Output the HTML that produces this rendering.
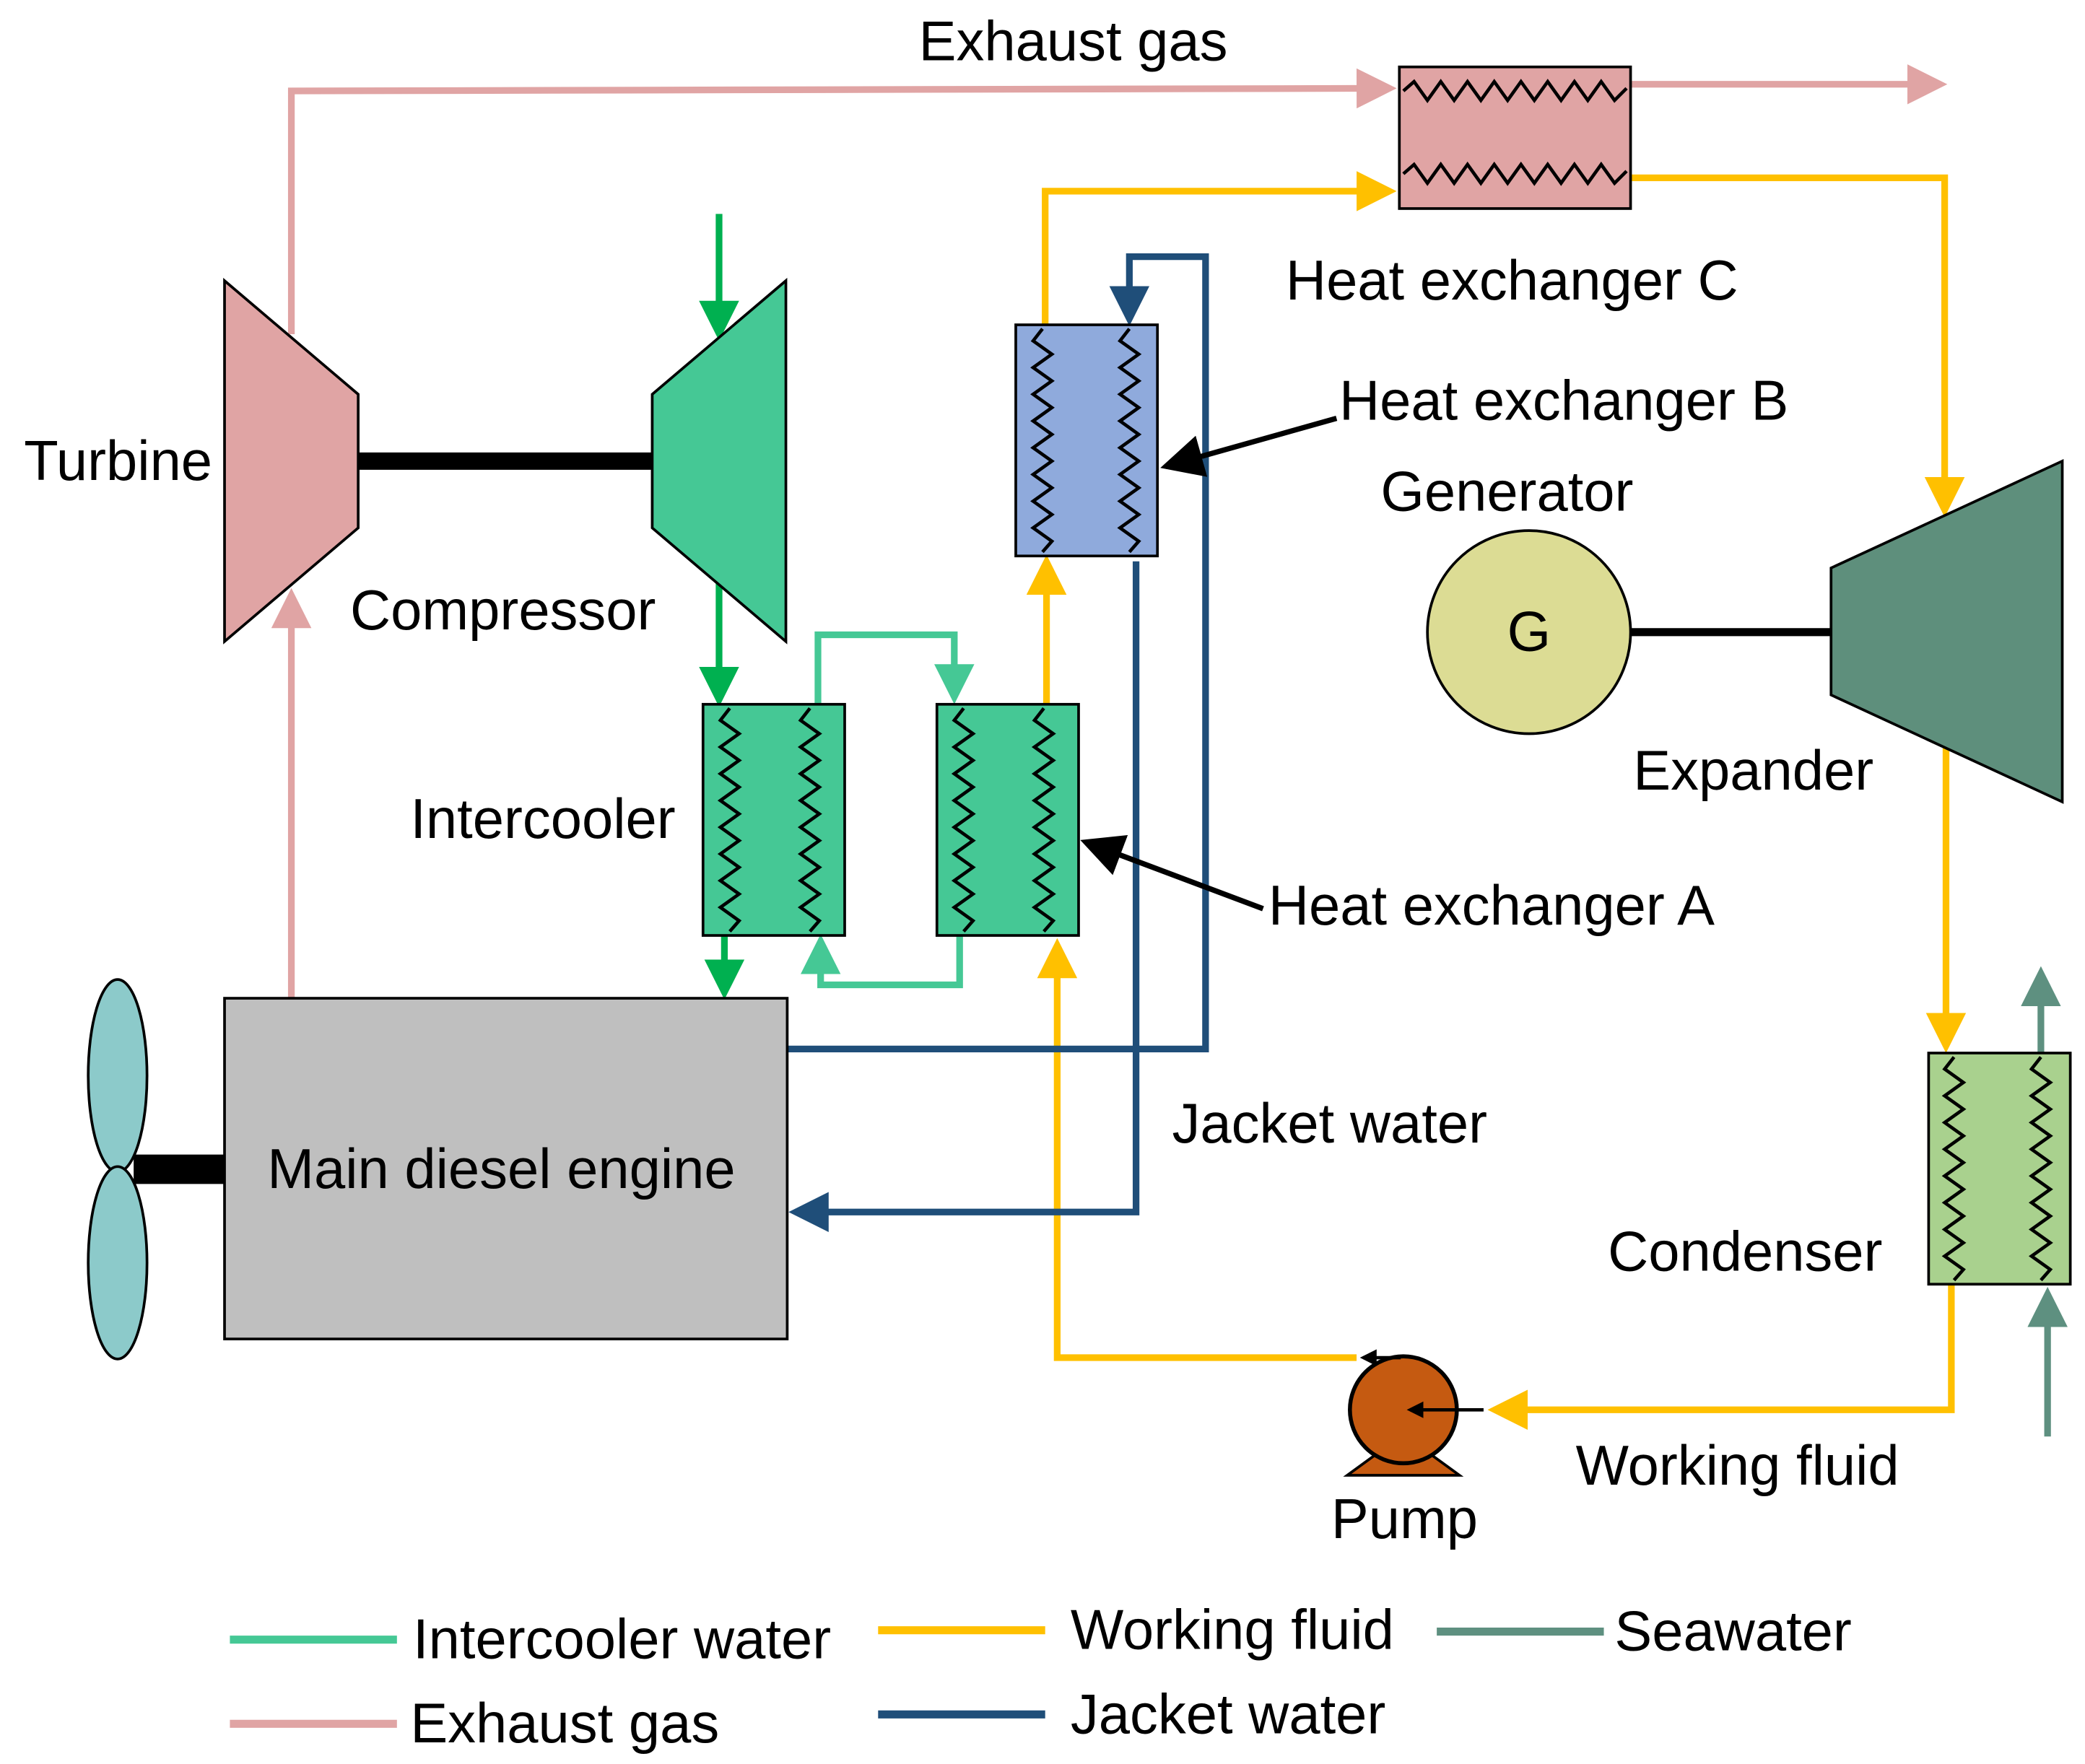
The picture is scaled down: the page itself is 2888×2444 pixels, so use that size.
<!DOCTYPE html>
<html><head><meta charset="utf-8"><style>
html,body{margin:0;padding:0;background:#fff;}
svg{display:block;}
text{font-family:"Liberation Sans",Arial,sans-serif;font-size:42px;fill:#000;}
</style></head><body>
<svg width="2888" height="2444" viewBox="0 0 1560 1320" xmlns="http://www.w3.org/2000/svg">
<defs>
<marker id="ap" markerWidth="6" markerHeight="6" refX="5" refY="3" orient="auto" markerUnits="strokeWidth"><path d="M0,0 L6,3 L0,6 z" fill="#e0a4a4"/></marker>
<marker id="ay" markerWidth="6" markerHeight="6" refX="5" refY="3" orient="auto" markerUnits="strokeWidth"><path d="M0,0 L6,3 L0,6 z" fill="#ffc000"/></marker>
<marker id="ag" markerWidth="6" markerHeight="6" refX="5" refY="3" orient="auto" markerUnits="strokeWidth"><path d="M0,0 L6,3 L0,6 z" fill="#00b050"/></marker>
<marker id="al" markerWidth="6" markerHeight="6" refX="5" refY="3" orient="auto" markerUnits="strokeWidth"><path d="M0,0 L6,3 L0,6 z" fill="#45c895"/></marker>
<marker id="an" markerWidth="6" markerHeight="6" refX="5" refY="3" orient="auto" markerUnits="strokeWidth"><path d="M0,0 L6,3 L0,6 z" fill="#1f4e79"/></marker>
<marker id="as" markerWidth="6" markerHeight="6" refX="5" refY="3" orient="auto" markerUnits="strokeWidth"><path d="M0,0 L6,3 L0,6 z" fill="#5e9080"/></marker>
<marker id="ak" markerWidth="5" markerHeight="5" refX="4" refY="2.5" orient="auto" markerUnits="strokeWidth"><path d="M0,0 L5,2.5 L0,5 z" fill="#000"/></marker>
<marker id="ak2" markerWidth="8" markerHeight="8" refX="7" refY="4" orient="auto" markerUnits="strokeWidth"><path d="M0,0 L8,4 L0,8 z" fill="#000"/></marker>
</defs>
<g fill="none" stroke-width="5">
<polyline points="218,250 218,68 1040,66" stroke="#e0a4a4" marker-end="url(#ap)"/>
<line x1="1220" y1="63" x2="1452" y2="63" stroke="#e0a4a4" marker-end="url(#ap)"/>
<line x1="218" y1="747" x2="218" y2="445" stroke="#e0a4a4" marker-end="url(#ap)"/>
<polyline points="782,243 782,143 1040,143" stroke="#ffc000" marker-end="url(#ay)"/>
<polyline points="1220,133 1455,133 1455,382" stroke="#ffc000" marker-end="url(#ay)"/>
<line x1="1456" y1="558" x2="1456" y2="783" stroke="#ffc000" marker-end="url(#ay)"/>
<polyline points="1460,960 1460,1055 1118,1055" stroke="#ffc000" marker-end="url(#ay)"/>
<polyline points="1015,1016 791,1016 791,707" stroke="#ffc000" marker-end="url(#ay)"/>
<line x1="783" y1="527" x2="783" y2="420" stroke="#ffc000" marker-end="url(#ay)"/>
<line x1="538" y1="160" x2="538" y2="250" stroke="#00b050" marker-end="url(#ag)"/>
<line x1="538" y1="435" x2="538" y2="524" stroke="#00b050" marker-end="url(#ag)"/>
<line x1="542" y1="700" x2="542" y2="743" stroke="#00b050" marker-end="url(#ag)"/>
<polyline points="612,527 612,475 714,475 714,522" stroke="#45c895" marker-end="url(#al)"/>
<polyline points="718,700 718,737 614,737 614,704" stroke="#45c895" marker-end="url(#al)"/>
<polyline points="587,785 902,785 902,192 845,192 845,239" stroke="#1f4e79" marker-end="url(#an)"/>
<polyline points="850,420 850,907 595,907" stroke="#1f4e79" marker-end="url(#an)"/>
<line x1="1532" y1="1075" x2="1532" y2="968" stroke="#5e9080" marker-end="url(#as)"/>
<line x1="1527" y1="790" x2="1527" y2="728" stroke="#5e9080" marker-end="url(#as)"/>
</g>
<rect x="1047" y="50" width="173" height="106" fill="#e0a4a4" stroke="#000" stroke-width="2"/>
<polyline fill="none" stroke="#000" stroke-width="2.5" points="1050,68 1058,61 1068,75 1078,61 1088,75 1098,61 1108,75 1118,61 1128,75 1138,61 1148,75 1158,61 1168,75 1178,61 1188,75 1198,61 1208,75 1217,66"/>
<polyline fill="none" stroke="#000" stroke-width="2.5" points="1050,130 1058,123 1068,137 1078,123 1088,137 1098,123 1108,137 1118,123 1128,137 1138,123 1148,137 1158,123 1168,137 1178,123 1188,137 1198,123 1208,137 1217,128"/>
<polygon points="168,210 268,295 268,395 168,480" fill="#e0a4a4" stroke="#000" stroke-width="2"/>
<line x1="268" y1="345" x2="488" y2="345" stroke="#000" stroke-width="13"/>
<polygon points="488,295 588,210 588,480 488,395" fill="#45c895" stroke="#000" stroke-width="2"/>
<g stroke="#000" stroke-width="2">
<rect x="526" y="527" width="106" height="173" fill="#45c895"/>
<rect x="701" y="527" width="106" height="173" fill="#45c895"/>
<rect x="760" y="243" width="106" height="173" fill="#8faadc"/>
<rect x="1443" y="788" width="106" height="173" fill="#a9d18e"/>
</g>
<g fill="none" stroke="#000" stroke-width="2.5">
<path d="M546,530 l-7,9 14,10 -14,10 14,10 -14,10 14,10 -14,10 14,10 -14,10 14,10 -14,10 14,10 -14,10 14,10 -14,10 14,10 -7,8"/>
<path d="M606,530 l-7,9 14,10 -14,10 14,10 -14,10 14,10 -14,10 14,10 -14,10 14,10 -14,10 14,10 -14,10 14,10 -14,10 14,10 -7,8"/>
<path d="M721,530 l-7,9 14,10 -14,10 14,10 -14,10 14,10 -14,10 14,10 -14,10 14,10 -14,10 14,10 -14,10 14,10 -14,10 14,10 -7,8"/>
<path d="M781,530 l-7,9 14,10 -14,10 14,10 -14,10 14,10 -14,10 14,10 -14,10 14,10 -14,10 14,10 -14,10 14,10 -14,10 14,10 -7,8"/>
<path d="M780,246 l-7,9 14,10 -14,10 14,10 -14,10 14,10 -14,10 14,10 -14,10 14,10 -14,10 14,10 -14,10 14,10 -14,10 14,10 -7,8"/>
<path d="M845,246 l-7,9 14,10 -14,10 14,10 -14,10 14,10 -14,10 14,10 -14,10 14,10 -14,10 14,10 -14,10 14,10 -14,10 14,10 -7,8"/>
<path d="M1462,791 l-7,9 14,10 -14,10 14,10 -14,10 14,10 -14,10 14,10 -14,10 14,10 -14,10 14,10 -14,10 14,10 -14,10 14,10 -7,8"/>
<path d="M1527,791 l-7,9 14,10 -14,10 14,10 -14,10 14,10 -14,10 14,10 -14,10 14,10 -14,10 14,10 -14,10 14,10 -14,10 14,10 -7,8"/>
</g>
<polygon points="1370,425 1543,345 1543,600 1370,520" fill="#5e8f7c" stroke="#000" stroke-width="2"/>
<line x1="1220" y1="473" x2="1370" y2="473" stroke="#000" stroke-width="6"/>
<circle cx="1144" cy="473" r="76" fill="#dcdc94" stroke="#000" stroke-width="2"/>
<text x="1144" y="487" text-anchor="middle">G</text>
<polygon points="1008,1104 1030,1088 1070,1088 1092,1104" fill="#c55a11" stroke="#000" stroke-width="2"/>
<circle cx="1050" cy="1055" r="40" fill="#c55a11" stroke="#000" stroke-width="3"/>
<line x1="1110" y1="1055" x2="1055" y2="1055" stroke="#000" stroke-width="2.5" marker-end="url(#ak)"/>
<line x1="1048" y1="1016" x2="1020" y2="1016" stroke="#000" stroke-width="2.5" marker-end="url(#ak)"/>
<line x1="100" y1="875" x2="168" y2="875" stroke="#000" stroke-width="22"/>
<ellipse cx="88" cy="805" rx="22" ry="72" fill="#8ccaca" stroke="#000" stroke-width="2"/>
<ellipse cx="88" cy="945" rx="22" ry="72" fill="#8ccaca" stroke="#000" stroke-width="2"/>
<rect x="168" y="747" width="421" height="255" fill="#bfbfbf" stroke="#000" stroke-width="2"/>
<line x1="1000" y1="313" x2="872" y2="349" stroke="#000" stroke-width="4" marker-end="url(#ak2)"/>
<line x1="945" y1="680" x2="812" y2="630" stroke="#000" stroke-width="4" marker-end="url(#ak2)"/>
<text x="803" y="45" text-anchor="middle">Exhaust gas</text>
<text x="18" y="359">Turbine</text>
<text x="262" y="471">Compressor</text>
<text x="307" y="627">Intercooler</text>
<text x="962" y="224">Heat exchanger C</text>
<text x="1002" y="314">Heat exchanger B</text>
<text x="1033" y="382">Generator</text>
<text x="1222" y="591">Expander</text>
<text x="949" y="692">Heat exchanger A</text>
<text x="877" y="855">Jacket water</text>
<text x="200" y="889">Main diesel engine</text>
<text x="1203" y="951">Condenser</text>
<text x="1179" y="1111">Working fluid</text>
<text x="996" y="1151">Pump</text>
<g stroke-width="6">
<line x1="172" y1="1227" x2="297" y2="1227" stroke="#45c895"/>
<line x1="172" y1="1290" x2="297" y2="1290" stroke="#e0a4a4"/>
<line x1="657" y1="1220" x2="782" y2="1220" stroke="#ffc000"/>
<line x1="657" y1="1283" x2="782" y2="1283" stroke="#1f4e79"/>
<line x1="1075" y1="1221" x2="1200" y2="1221" stroke="#5e9080"/>
</g>
<text x="309" y="1241">Intercooler water</text>
<text x="307" y="1304">Exhaust gas</text>
<text x="801" y="1234">Working fluid</text>
<text x="801" y="1297">Jacket water</text>
<text x="1208" y="1235">Seawater</text>
</svg>
</body></html>
